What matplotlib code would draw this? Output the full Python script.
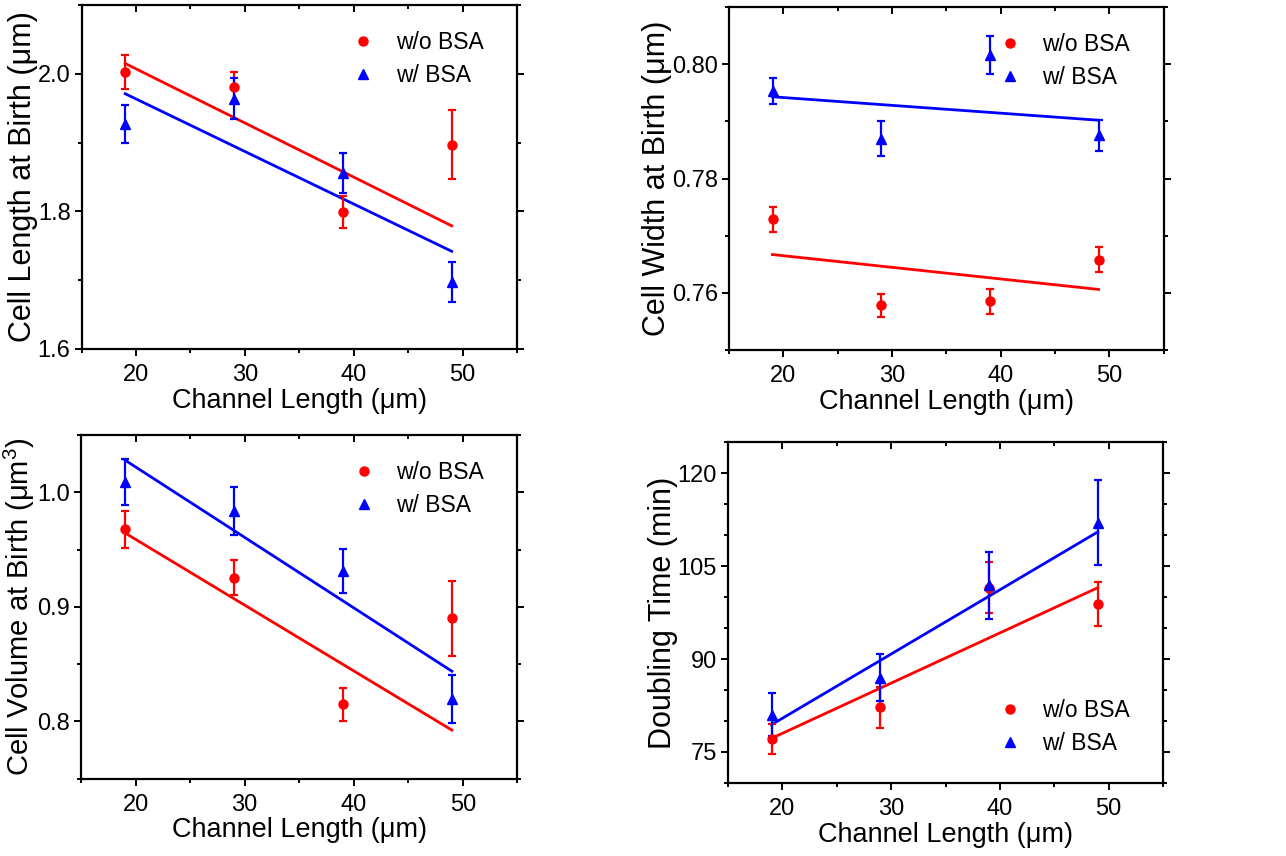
import numpy as np
import matplotlib
matplotlib.use("Agg")
import matplotlib.pyplot as plt
from matplotlib.ticker import MultipleLocator

plt.rcParams["font.family"] = ["Liberation Sans", "DejaVu Sans"]
plt.rcParams["mathtext.fontset"] = "custom"
plt.rcParams["mathtext.rm"] = "Liberation Sans"
plt.rcParams["mathtext.it"] = "Liberation Sans:italic"

channel = [19, 29, 39, 49]
fit_x = [19, 49]

# cell length at birth (um)
len_wo = [2.003, 1.981, 1.799, 1.897]
len_wo_err = [0.025, 0.022, 0.023, 0.050]
len_w = [1.927, 1.964, 1.856, 1.697]
len_w_err = [0.027, 0.030, 0.029, 0.029]
len_fit_wo = [2.015, 1.779]
len_fit_w = [1.971, 1.742]

# cell width at birth (um)
wid_wo = [0.7729, 0.7578, 0.7585, 0.7658]
wid_wo_err = [0.0022, 0.0020, 0.0022, 0.0022]
wid_w = [0.7953, 0.7870, 0.8016, 0.7876]
wid_w_err = [0.0022, 0.0030, 0.0034, 0.0027]
wid_fit_wo = [0.7667, 0.7606]
wid_fit_w = [0.7943, 0.7902]

# cell volume at birth (um^3)
vol_wo = [0.9676, 0.9255, 0.815, 0.890]
vol_wo_err = [0.016, 0.015, 0.0146, 0.033]
vol_w = [1.0093, 0.9836, 0.9312, 0.8196]
vol_w_err = [0.020, 0.021, 0.019, 0.021]
vol_fit_wo = [0.9647, 0.7924]
vol_fit_w = [1.0283, 0.8438]

# doubling time (min)
dbl_wo = [77.1, 82.2, 101.5, 98.9]
dbl_wo_err = [2.4, 3.3, 4.1, 3.5]
dbl_w = [81.0, 87.0, 101.9, 112.0]
dbl_w_err = [3.5, 3.8, 5.4, 6.9]
dbl_fit_wo = [77.2, 101.5]
dbl_fit_w = [79.4, 110.5]

RED = "#ff0000"
BLUE = "#0000ff"

fig = plt.figure(figsize=(12.86, 8.56), dpi=100)

boxes = [
    [0.0635, 0.5923, 0.3385, 0.4019],
    [0.5669, 0.5911, 0.3380, 0.4007],
    [0.0630, 0.0903, 0.3393, 0.4015],
    [0.5661, 0.0853, 0.3383, 0.3983],
]

panels = [
    (len_wo, len_wo_err, len_w, len_w_err, len_fit_wo, len_fit_w,
     "Cell Length at Birth (μm)", 22, (1.6, 2.1), 0.2, 0.1, "{:.1f}"),
    (wid_wo, wid_wo_err, wid_w, wid_w_err, wid_fit_wo, wid_fit_w,
     "Cell Width at Birth (μm)", 22, (0.75, 0.81), 0.02, 0.01, "{:.2f}"),
    (vol_wo, vol_wo_err, vol_w, vol_w_err, vol_fit_wo, vol_fit_w,
     "Cell Volume at Birth (μm$^3$)", 21, (0.75, 1.05), 0.1, 0.05, "{:.1f}"),
    (dbl_wo, dbl_wo_err, dbl_w, dbl_w_err, dbl_fit_wo, dbl_fit_w,
     "Doubling Time (min)", 22, (70, 125), 15, 5, "{:.0f}"),
]

for i, (box, p) in enumerate(zip(boxes, panels)):
    wo, wo_e, w, w_e, f_wo, f_w, ylab, ylsize, ylim, major, minor, fmt = p
    ax = fig.add_axes(box)

    ax.plot(fit_x, f_wo, color=RED, lw=2.0, zorder=2)
    ax.plot(fit_x, f_w, color=BLUE, lw=2.0, zorder=2)
    ax.errorbar(channel, wo, yerr=wo_e, fmt="none", ecolor=RED,
                elinewidth=1.6, capsize=3, capthick=1.6, zorder=3)
    ax.errorbar(channel, w, yerr=w_e, fmt="none", ecolor=BLUE,
                elinewidth=1.6, capsize=3, capthick=1.6, zorder=3)
    ax.plot(channel, wo, "o", color=RED, ms=6.5, ls="none", label="w/o BSA", zorder=4)
    ax.plot(channel, w, "^", color=BLUE, ms=7, ls="none", label="w/ BSA", zorder=4)

    ax.set_xlim(15, 55)
    ax.set_ylim(*ylim)
    ax.xaxis.set_major_locator(MultipleLocator(10))
    ax.xaxis.set_minor_locator(MultipleLocator(5))
    ax.yaxis.set_major_locator(MultipleLocator(major))
    ax.yaxis.set_minor_locator(MultipleLocator(minor))
    ax.yaxis.set_major_formatter(lambda v, pos, f=fmt: f.format(v))

    for s in ax.spines.values():
        s.set_linewidth(1.6)
    ax.tick_params(which="both", direction="out", width=1.4, labelsize=17)
    ax.tick_params(axis="x", pad=6)
    ax.tick_params(axis="y", pad=3)
    ax.tick_params(which="major", length=5)
    ax.tick_params(which="minor", length=3)

    # mirrored inward ticks on top/right
    ax.tick_params(which="both", top=True, right=True)
    for t in ax.xaxis.get_major_ticks() + ax.xaxis.get_minor_ticks():
        t.tick2line.set_marker(3)
    for t in ax.yaxis.get_major_ticks() + ax.yaxis.get_minor_ticks():
        t.tick2line.set_marker(1)

    ax.set_xlabel("Channel Length (μm)", fontsize=19.5, labelpad=1)
    ax.set_ylabel(ylab, fontsize=ylsize, labelpad=0)

    leg_kw = dict(frameon=False, fontsize=16.5, numpoints=1, handletextpad=0.8,
                  handlelength=1.2, labelspacing=0.45)
    if i == 3:
        ax.legend(loc="lower right", bbox_to_anchor=(0.97, 0.022), **leg_kw)
    else:
        ax.legend(loc="upper right", bbox_to_anchor=(0.97, 0.985), **leg_kw)

fig.savefig("out.png", dpi=100)
